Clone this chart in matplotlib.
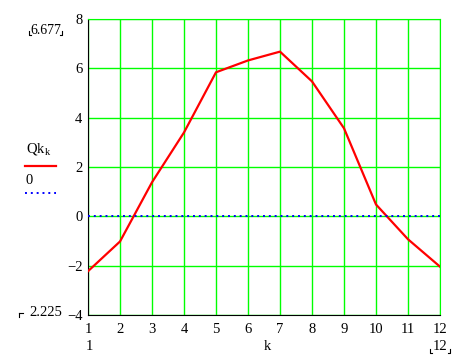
import numpy as np
import matplotlib.pyplot as plt
from matplotlib.lines import Line2D

# Data
k = [1, 2, 3, 4, 5, 6, 7, 8, 9, 10, 11, 12]
Qk = [-2.225, -1.02, 1.38, 3.40, 5.84, 6.32, 6.677, 5.47, 3.57, 0.48, -0.93, -2.04]
zero = [0] * len(k)
xticks = list(range(1, 13))
yticks = [-4, -2, 0, 2, 4, 6, 8]

plt.rcParams['font.family'] = ['Liberation Serif', 'DejaVu Serif']

fig = plt.figure(figsize=(4.7, 3.55), dpi=100)
ax = fig.add_axes([88 / 470, 1 - 315 / 355, 352 / 470, 296 / 355])

ax.set_xlim(1, 12)
ax.set_ylim(-4, 8)
ax.set_xticks(xticks)
ax.set_yticks(yticks)
ax.set_yticklabels([("\u2212" + str(-v)) if v < 0 else str(v) for v in yticks])
ax.grid(True, color='#00ff00', linewidth=1)
ax.set_axisbelow(True)
ax.tick_params(length=0, labelsize=10.5, pad=4)
ax.tick_params(axis='x', pad=6)

ax.plot(k, Qk, color='#ff0000', linewidth=1.6, zorder=3)
ax.plot(k, zero, color='#0000ff', linewidth=1.4, linestyle=(0, (1, 2)), zorder=3)

for side in ['top', 'right']:
    ax.spines[side].set_color('#00ff00')
for side in ['left', 'bottom']:
    ax.spines[side].set_color('black')

# Mathcad-style limit labels
fig.text(45.5 / 470, 1 - 30 / 355, "6.677", ha='center', va='center', fontsize=10)
fig.text(46 / 470, 1 - 313 / 355, "2.225", ha='center', va='center', fontsize=10.5)
fig.text(89 / 470, 1 - 347 / 355, "1", ha='center', va='center', fontsize=10.5)
fig.text(440 / 470, 1 - 347 / 355, "12", ha='center', va='center', fontsize=10.5)
fig.text(267 / 470, 1 - 347 / 355, "k", ha='center', va='center', fontsize=10.5)

def corner(x, y, dx, dy):
    fig.add_artist(Line2D([x / 470, x / 470, (x + dx) / 470],
                          [1 - (y - dy) / 355, 1 - y / 355, 1 - y / 355],
                          color='black', linewidth=0.8, transform=fig.transFigure))

corner(29, 35, 2, 4)
corner(62, 35, -2, 4)
corner(430, 353, 2, 4)
corner(450, 353, -2, 4)
fig.add_artist(Line2D([19 / 470, 23 / 470], [1 - 313 / 355, 1 - 313 / 355],
                      color='black', linewidth=0.8, transform=fig.transFigure))
fig.add_artist(Line2D([19 / 470, 19 / 470], [1 - 313 / 355, 1 - 317 / 355],
                      color='black', linewidth=0.8, transform=fig.transFigure))

# Legend
fig.text(26 / 470, 1 - 150 / 355, "Qk$_\\mathregular{k}$", ha='left', va='center', fontsize=10.5)
fig.add_artist(Line2D([25 / 470, 56 / 470], [1 - 166 / 355, 1 - 166 / 355],
                      color='#ff0000', linewidth=1.6, transform=fig.transFigure))
fig.text(26 / 470, 1 - 180 / 355, "0", ha='left', va='center', fontsize=10.5)
fig.add_artist(Line2D([25 / 470, 56 / 470], [1 - 193 / 355, 1 - 193 / 355],
                      color='#0000ff', linewidth=1.4, linestyle=(0, (1, 2)),
                      transform=fig.transFigure))

fig.savefig("out.png", dpi=100)
